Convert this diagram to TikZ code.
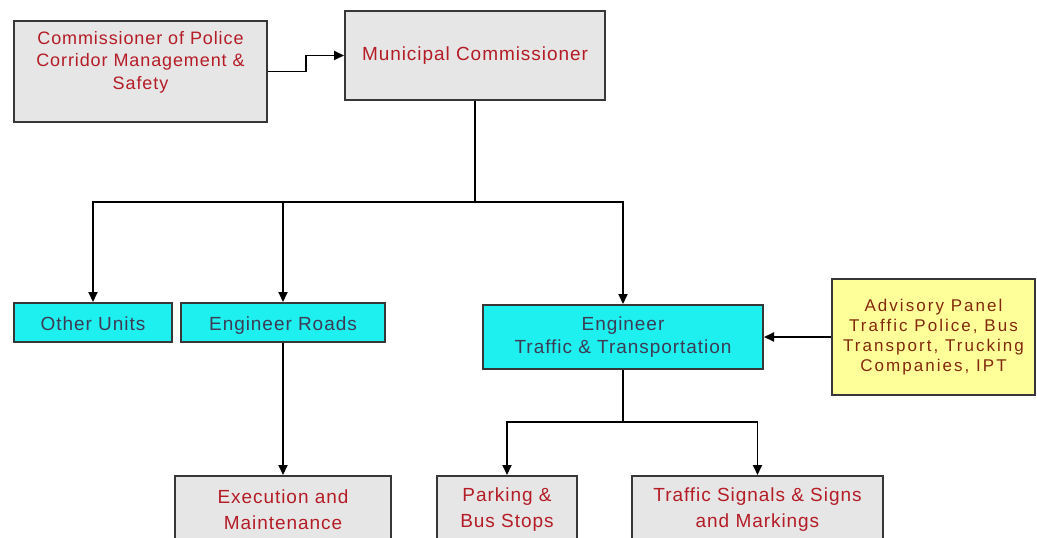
\documentclass[tikz,border=0pt]{standalone}
\usepackage{fontspec}
\setmainfont{Liberation Sans}
\newfontfamily\chartfont[LetterSpace=5]{Liberation Sans}
\usetikzlibrary{arrows.meta}
\definecolor{boxgray}{RGB}{230,230,230}
\definecolor{boxcyan}{RGB}{30,240,240}
\definecolor{boxyellow}{RGB}{255,255,153}
\definecolor{txtred}{RGB}{180,28,38}
\definecolor{txtslate}{RGB}{60,60,85}
\definecolor{txtbrown}{RGB}{130,40,10}
\definecolor{edgegray}{RGB}{55,55,55}
\begin{document}
\begin{tikzpicture}[x=1pt,y=-1pt,
    every node/.style={inner sep=0pt,align=center},
    chartbox/.style={draw=edgegray,line width=2pt,text=txtred,
      font=\chartfont\fontsize{19}{23}\selectfont},
    graybox/.style={chartbox,fill=boxgray},
    cyanbox/.style={chartbox,fill=boxcyan,text=txtslate},
    yellowbox/.style={chartbox,fill=boxyellow,text=txtbrown,
      font=\chartfont\addfontfeature{LetterSpace=12}\fontsize{17}{20}\selectfont},
    lowbox/.style={graybox,minimum height=68pt,font=\chartfont\fontsize{19}{26}\selectfont},
    unitline/.style={cyanbox,minimum height=39pt,text height=15pt,text depth=0pt},
    link/.style={draw=black,line width=1.8pt},
    arr/.style={link,-{Triangle[length=10pt,width=9pt]}}]
    \useasboundingbox (0,0) rectangle (1037,538);
    \clip (0,0) rectangle (1037,538);
    \fill[white] (0,0) rectangle (1037,538);
    % top row
    \node[graybox,minimum width=253pt,minimum height=101pt,
      font=\chartfont\fontsize{18}{22.5}\selectfont] (police) at (140.5,71.5)
      {Commissioner of Police\\Corridor Management \&\\Safety\\~};
    \node[graybox,minimum width=260pt,minimum height=89pt] (mun) at (475,55.5) {Municipal Commissioner};
    % units
    \node[unitline,minimum width=158pt] (other) at (93,322.5) {Other Units};
    \node[unitline,minimum width=204pt] (roads) at (283,322.5) {Engineer Roads};
    \node[cyanbox,minimum width=280pt,minimum height=64pt] (tt) at (623,337) {Engineer\\Traffic \& Transportation};
    \node[yellowbox,minimum width=203pt,minimum height=116pt] (adv) at (933.5,337)
      {Advisory Panel\\Traffic Police, Bus\\Transport, Trucking\\Companies, IPT};
    % bottom row
    \node[lowbox,minimum width=216pt] (exe) at (283,510) {Execution and\\Maintenance};
    \node[lowbox,minimum width=140pt] (park) at (507,510) {Parking \&\\Bus Stops};
    \node[lowbox,minimum width=251pt] (sig) at (757.5,510) {Traffic Signals \& Signs\\and Markings};
    \coordinate (mbus) at (475,202);
    \coordinate (tbus) at (623,422);
    \draw[arr] (police.east) -- ++(38,0) |- (mun.west);
    \draw[link] (mun.south) -- (mbus);
    \draw[arr] (mbus) -| (other.north);
    \draw[arr] (mbus) -| (roads.north);
    \draw[arr] (mbus) -| (tt.north);
    \draw[arr] (adv.west) -- (tt.east);
    \draw[arr] (roads.south) -- (exe.north);
    \draw[link] (tt.south) -- (tbus);
    \draw[arr] (tbus) -| (park.north);
    \draw[arr] (tbus) -| (sig.north);
\end{tikzpicture}
\end{document}
